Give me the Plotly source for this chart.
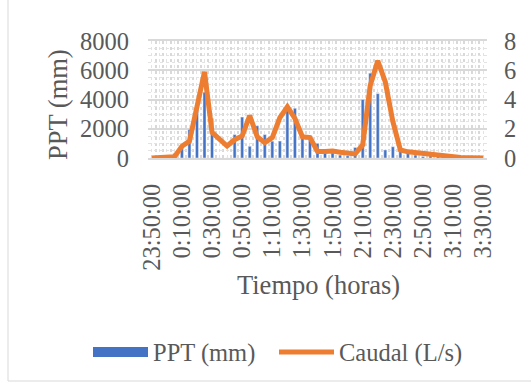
import plotly.graph_objects as go

# Time stamps every 5 minutes, 23:50:00 -> 3:30:00
times = ["23:50:00", "23:55:00", "0:00:00", "0:05:00", "0:10:00", "0:15:00", "0:20:00", "0:25:00",
         "0:30:00", "0:35:00", "0:40:00", "0:45:00", "0:50:00", "0:55:00", "1:00:00", "1:05:00",
         "1:10:00", "1:15:00", "1:20:00", "1:25:00", "1:30:00", "1:35:00", "1:40:00", "1:45:00",
         "1:50:00", "1:55:00", "2:00:00", "2:05:00", "2:10:00", "2:15:00", "2:20:00", "2:25:00",
         "2:30:00", "2:35:00", "2:40:00", "2:45:00", "2:50:00", "2:55:00", "3:00:00", "3:05:00",
         "3:10:00", "3:15:00", "3:20:00", "3:25:00", "3:30:00"]

# Precipitation (mm)
ppt = [0, 0, 0, 300, 750, 1950, 3700, 4500, 2700, 0, 0, 1600, 2800, 800, 2200, 1600,
       1150, 1160, 3300, 3400, 1500, 1450, 1000, 350, 350, 200, 150, 720, 4000, 5800,
       4400, 550, 770, 480, 300, 200, 100, 150, 200, 100, 0, 0, 0, 0, 0]

# Flow (L/s)
caudal = [0, 0, 0, 0.08, 0.8, 1.15, 3.5, 5.9, 1.75, 1.25, 0.82, 1.25, 1.5, 2.9, 1.45, 1.05,
          1.4, 2.75, 3.5, 2.7, 1.45, 1.4, 0.45, 0.45, 0.48, 0.4, 0.38, 0.28, 0.9, 4.95,
          6.65, 5.2, 2.5, 0.55, 0.42, 0.36, 0.28, 0.2, 0.2, 0.13, 0.08, 0.04, 0.02, 0.01, 0.0]

ppt_ticks = [0, 2000, 4000, 6000, 8000]
caudal_ticks = [0, 2, 4, 6, 8]

BLUE = "#4472C4"
ORANGE = "#ED7D31"
TEXT = "#595959"
GRID = "#D9D9D9"
MINOR = "#E3E3E3"
FONT = "Liberation Serif"

W, H = 531, 383
L, R, T, B = 148, 44, 41, 225
PW, PH = W - L - R, H - T - B

idx = list(range(len(times)))
tick_text = [t if i % 4 == 0 else "" for i, t in enumerate(times)]
bounds = [i - 0.5 for i in range(len(times) + 1)]

fig = go.Figure()
fig.add_trace(go.Bar(x=idx, y=ppt, name="PPT (mm)", marker_color=BLUE, width=0.4,
                     showlegend=False, legendgroup="ppt"))
fig.add_trace(go.Scatter(x=idx, y=caudal, name="Caudal (L/s)", mode="lines", yaxis="y2",
                         line=dict(color=ORANGE, width=5), showlegend=False))

# Legend entries (swatches only), one legend box per series
fig.add_trace(go.Scatter(x=[None], y=[None], mode="lines", name="PPT (mm)",
                         line=dict(color=BLUE, width=10), legendgroup="ppt", legend="legend"))
fig.add_trace(go.Scatter(x=[None], y=[None], mode="lines", name="Caudal (L/s)",
                         line=dict(color=ORANGE, width=5), legend="legend2"))

tick_font = dict(family=FONT, size=24.5, color=TEXT)
title_font = dict(family=FONT, size=26.5, color=TEXT)
legend_font = dict(family=FONT, size=24.5, color=TEXT)


def px_x(x):
    return (x - L) / PW


def px_y(y):
    return (T + PH - y) / PH


legend_common = dict(orientation="h", xref="paper", yref="paper", y=px_y(352),
                     xanchor="left", yanchor="middle", font=legend_font,
                     itemwidth=55, bgcolor="rgba(0,0,0,0)")

fig.update_layout(
    width=W, height=H, autosize=False,
    margin=dict(l=L, r=R, t=T, b=B, autoexpand=False),
    paper_bgcolor="white", plot_bgcolor="white",
    font=dict(family=FONT, size=24, color=TEXT),
    xaxis=dict(
        range=[-0.5, len(times) - 0.5],
        tickmode="array", tickvals=idx, ticktext=tick_text,
        tickangle=-90, tickfont=tick_font, ticks="",
        showgrid=True, gridcolor=MINOR, gridwidth=1, griddash="dot",
        minor=dict(tickmode="array", tickvals=bounds, showgrid=True,
                   gridcolor=GRID, gridwidth=1.8),
        showline=True, linecolor=GRID, linewidth=1.8, mirror=True,
        zeroline=False, ticklabelstandoff=14, automargin=False,
    ),
    yaxis=dict(
        range=[0, 8000], tickmode="array", tickvals=ppt_ticks,
        tickfont=tick_font, ticks="",
        showgrid=True, gridcolor=GRID, gridwidth=1.8,
        minor=dict(dtick=500, showgrid=True, gridcolor=MINOR, gridwidth=1, griddash="dot"),
        zeroline=False, ticklabelstandoff=18, automargin=False,
    ),
    yaxis2=dict(
        range=[0, 8], tickmode="array", tickvals=caudal_ticks,
        tickfont=tick_font, ticks="", overlaying="y", side="right",
        showgrid=False, zeroline=False, ticklabelstandoff=16, automargin=False,
    ),
    legend=dict(x=px_x(88), **legend_common),
    legend2=dict(x=px_x(274), **legend_common),
    annotations=[
        dict(text="PPT (mm)", xref="paper", yref="paper", x=px_x(58), y=px_y(104),
             xanchor="center", yanchor="middle",
             textangle=-90, showarrow=False, font=title_font),
        dict(text="Tiempo (horas)", xref="paper", yref="paper", x=px_x(318), y=px_y(285),
             xanchor="center", yanchor="middle", showarrow=False, font=title_font),
    ],
    shapes=[
        dict(type="rect", xref="paper", yref="paper",
             x0=px_x(8), x1=px_x(560), y0=px_y(381), y1=px_y(-20),
             line=dict(color="#D9D9D9", width=1), fillcolor="rgba(0,0,0,0)", layer="below"),
    ],
)

fig.write_html("out.html")
